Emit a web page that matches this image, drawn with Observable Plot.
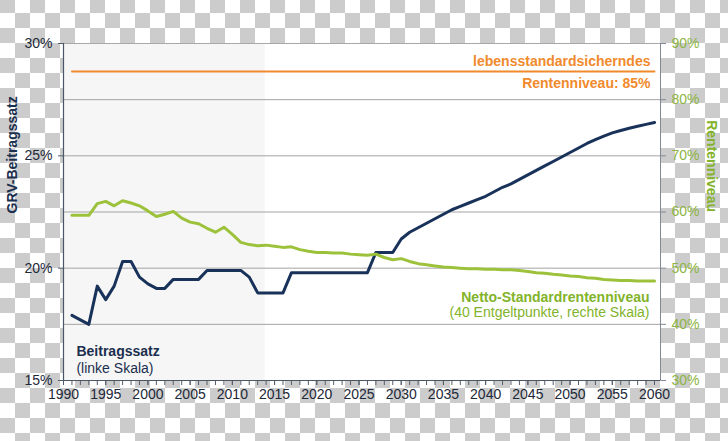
<!DOCTYPE html>
<html>
<head>
<meta charset="utf-8">
<script src="https://cdn.jsdelivr.net/npm/d3@7"></script>
<script src="https://cdn.jsdelivr.net/npm/@observablehq/plot@0.6"></script>
<style>
  html, body { margin: 0; padding: 0; }
  body {
    width: 728px; height: 441px; overflow: hidden;
    background-color: #ffffff;
    background-image: repeating-conic-gradient(#ffffff 0 25%, #cccccc 0 50%);
    background-size: 30px 30px;
    background-position: 0 -2px;
  }
  #chart svg { display: block; }
</style>
</head>
<body>
<div id="chart"></div>
<script>
// ---------- data ----------
const years = [1991,1992,1993,1994,1995,1996,1997,1998,1999,2000,
  2001,2002,2003,2004,2005,2006,2007,2008,2009,2010,
  2011,2012,2013,2014,2015,2016,2017,2018,2019,2020,
  2021,2022,2023,2024,2025,2026,2027,2028,2029,2030,
  2031,2032,2033,2034,2035,2036,2037,2038,2039,2040,
  2041,2042,2043,2044,2045,2046,2047,2048,2049,2050,
  2051,2052,2053,2054,2055,2056,2057,2058,2059,2060];

// GRV-Beitragssatz in % (left scale)
const beitragssatz = [17.9,17.7,17.5,19.2,18.6,19.2,20.3,20.3,19.6,19.3,
  19.1,19.1,19.5,19.5,19.5,19.5,19.9,19.9,19.9,19.9,
  19.9,19.6,18.9,18.9,18.9,18.9,19.8,19.8,19.8,19.8,
  19.8,19.8,19.8,19.8,19.8,19.8,20.7,20.7,20.7,21.3,
  21.6,21.8,22.0,22.2,22.4,22.6,22.75,22.9,23.05,23.2,
  23.4,23.6,23.75,23.95,24.15,24.35,24.55,24.75,24.95,25.15,
  25.35,25.55,25.72,25.88,26.02,26.13,26.23,26.32,26.4,26.48];

// Netto-Standardrentenniveau in % (right scale)
const nettoRentenniveau = [59.4,59.4,59.4,61.5,61.9,61.1,62.0,61.6,61.1,60.2,
  59.2,59.6,60.1,58.9,58.2,57.9,57.1,56.4,57.3,56.0,
  54.6,54.2,54.0,54.1,53.9,53.7,53.8,53.3,53.0,52.8,
  52.8,52.7,52.7,52.5,52.4,52.3,52.5,51.9,51.5,51.7,
  51.2,50.8,50.6,50.4,50.2,50.1,50.0,49.9,49.9,49.8,
  49.8,49.7,49.7,49.6,49.4,49.2,49.1,48.9,48.8,48.6,
  48.5,48.3,48.2,48.0,47.9,47.8,47.8,47.7,47.7,47.7];

// lebensstandardsicherndes Rentenniveau (right scale)
const zielRentenniveau = 85;

// historical period (shaded)
const historicStart = 1990;
const historicEnd = 2013.9;

// tick labels
const leftTicks = [15, 20, 25, 30];
const rightTicks = [30, 40, 50, 60, 70, 80, 90];
const xLabelTicks = [1990,1995,2000,2005,2010,2015,2020,2025,2030,2035,2040,2045,2050,2055,2060];
const xMinorTicks = [1990, ...years];

const texts = {
  leftTitle: "GRV-Beitragssatz",
  rightTitle: "Rentenniveau",
  zielLine1: "lebensstandardsicherndes",
  zielLine2: "Rentenniveau: 85%",
  nettoLine1: "Netto-Standardrentenniveau",
  nettoLine2: "(40 Entgeltpunkte, rechte Skala)",
  beitragLine1: "Beitragssatz",
  beitragLine2: "(linke Skala)"
};

// ---------- scale link: right scale 30–90 % <-> left scale 15–30 % ----------
const toLeft = r => 15 + (r - 30) / 4;
const fromLeft = l => 30 + (l - 15) * 4;

const rows = years.map((year, i) => ({
  year,
  beitrag: beitragssatz[i],
  netto: toLeft(nettoRentenniveau[i]),
  ziel: toLeft(zielRentenniveau)
}));

const firstYear = years[0];
const lastYear = years[years.length - 1];

const navy = "#19325a";
const navyText = "#1b2f4e";
const green = "#9cc23c";
const greenText = "#82b32a";
const greenTick = "#8db443";
const orange = "#f08a2c";
const axisText = "#1d2838";
const font = "Liberation Sans, Arial, Helvetica, sans-serif";

const chart = Plot.plot({
  width: 728,
  height: 441,
  marginTop: 43,
  marginBottom: 61,
  marginLeft: 63,
  marginRight: 68,
  x: { domain: [1990, 2060.71] },
  y: { domain: [15, 30] },
  style: { background: "transparent", fontFamily: font, overflow: "visible" },
  marks: [
    Plot.frame({ fill: "#ffffff", stroke: "#a8a8a8" }),
    Plot.rect([{ start: historicStart, end: historicEnd }], { x1: "start", x2: "end", fill: "#f6f6f6" }),
    Plot.ruleY(rightTicks.filter(t => t > 30 && t < 90).map(toLeft), { stroke: "#a3a3a3", strokeWidth: 1 }),
    Plot.frame({ stroke: "#a8a8a8" }),
    // axes
    Plot.axisY({ anchor: "left", ticks: leftTicks, tickFormat: d => d + "%", tickSize: 5, tickPadding: 6,
      fontSize: 14, fill: axisText, stroke: "#555f6b", label: null }),
    Plot.axisY({ anchor: "right", ticks: rightTicks.map(toLeft), tickFormat: d => Math.round(fromLeft(d)) + "%",
      tickSize: 5, tickPadding: 6, fontSize: 14, fill: greenTick, stroke: "#7f8a96", label: null }),
    Plot.axisX({ ticks: xMinorTicks, tickFormat: () => "", tickSize: 5, stroke: "#555f6b", label: null }),
    Plot.axisX({ ticks: xLabelTicks, tickFormat: d => String(d), tickSize: 5, tickPadding: 4,
      fontSize: 14, fill: axisText, stroke: "#555f6b", label: null }),
    Plot.ruleX([1990], { stroke: "#4b5766", strokeWidth: 1.2 }),
    Plot.ruleY([15], { stroke: "#4b5766", strokeWidth: 1.2 }),
    Plot.ruleX([2060.71], { stroke: "#7f8a96", strokeWidth: 1 }),
    // data
    Plot.line(rows, { x: "year", y: "ziel", stroke: orange, strokeWidth: 2 }),
    Plot.line(rows, { x: "year", y: "beitrag", stroke: navy, strokeWidth: 3, strokeLinejoin: "round" }),
    Plot.line(rows, { x: "year", y: "netto", stroke: green, strokeWidth: 3, strokeLinejoin: "round" }),
    // annotations
    Plot.text([texts.zielLine1], { x: lastYear, y: toLeft(zielRentenniveau), text: d => d, textAnchor: "end",
      dx: -4, dy: -10, fill: orange, fontWeight: "bold", fontSize: 14 }),
    Plot.text([texts.zielLine2], { x: lastYear, y: toLeft(zielRentenniveau), text: d => d, textAnchor: "end",
      dx: -4, dy: 12, fill: orange, fontWeight: "bold", fontSize: 14 }),
    Plot.text([texts.nettoLine1], { x: lastYear, y: toLeft(nettoRentenniveau[nettoRentenniveau.length - 1]), text: d => d,
      textAnchor: "end", dx: -5, dy: 16, fill: greenText, fontWeight: "bold", fontSize: 14 }),
    Plot.text([texts.nettoLine2], { x: lastYear, y: toLeft(nettoRentenniveau[nettoRentenniveau.length - 1]), text: d => d,
      textAnchor: "end", dx: -5, dy: 31.5, fill: greenText, fontSize: 14 }),
    Plot.text([texts.beitragLine1], { x: firstYear, y: 15, text: d => d, textAnchor: "start",
      dx: 4.5, dy: -28.5, fill: navyText, fontWeight: "bold", fontSize: 14 }),
    Plot.text([texts.beitragLine2], { x: firstYear, y: 15, text: d => d, textAnchor: "start",
      dx: 4.5, dy: -12, fill: navyText, fontSize: 14 }),
    // axis titles
    Plot.text([texts.leftTitle], { frameAnchor: "left", text: d => d, rotate: -90, dx: -51, dy: 1.5,
      fill: navyText, fontWeight: "bold", fontSize: 14 }),
    Plot.text([texts.rightTitle], { frameAnchor: "right", text: d => d, rotate: 90, dx: 51, dy: 0,
      fill: greenText, fontWeight: "bold", fontSize: 14 })
  ]
});

document.getElementById("chart").appendChild(chart);
</script>
</body>
</html>
